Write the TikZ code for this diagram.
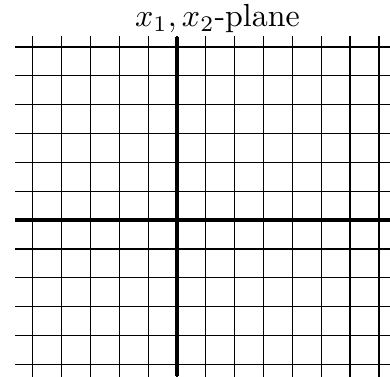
\documentclass[tikz,border=0pt]{standalone}
\usepackage{amsmath}
\usepackage{tikz}
\usetikzlibrary{positioning}

\begin{document}
\begin{tikzpicture}[
    x=0.3175cm, y=0.3175cm,
    gridline/.style={line width=0.4pt, color=black},
    axisline/.style={line width=1pt, color=black},
    label/.style={font=\normalsize, inner sep=0pt}
]

% Bounding box
\useasboundingbox (-6.135,-5.407) rectangle (7.383,7.626);

% Grid
\begin{scope}
\clip (-5.615,-5.5) rectangle (7.5,6.35);
\draw[gridline, step=1] (-7,-7) grid (8,7);
\end{scope}

% Axes
\coordinate (xmin) at (-5.615,0);
\coordinate (xmax) at (7.383,0);
\coordinate (ymin) at (0,-5.407);
\coordinate (ymax) at (0,6.35);
\draw[axisline] (xmin) -- (xmax);
\draw[axisline] (ymin) -- (ymax);

% Title
\node[label, anchor=base] (title) at (1.404,6.70) {$x_1, x_2$-plane};

\end{tikzpicture}
\end{document}
